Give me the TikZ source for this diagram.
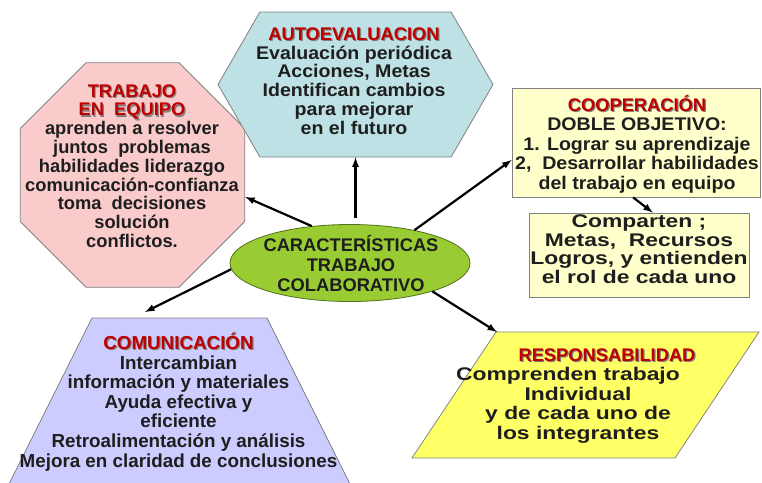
\documentclass[tikz,border=0pt]{standalone}
\usepackage{fontspec}
\setmainfont{Liberation Sans}
\newfontfamily\fuentemedia[FakeStretch=1.07]{Liberation Sans}
\newfontfamily\fuenteancha[FakeStretch=1.25]{Liberation Sans}
\usetikzlibrary{shapes.geometric,shapes.symbols}
\definecolor{rosa}{RGB}{249,203,203}
\definecolor{celeste}{RGB}{190,225,229}
\definecolor{crema}{RGB}{255,255,204}
\definecolor{verde}{RGB}{153,204,51}
\definecolor{lila}{RGB}{204,204,255}
\definecolor{amarillo}{RGB}{255,255,102}
\definecolor{rojo}{RGB}{192,0,0}
\definecolor{tinta}{RGB}{30,30,30}
\newcommand{\tit}[1]{{\rmfamily\leavevmode\rlap{\kern1.2pt\raisebox{-1.2pt}{\color{black!50}#1}}\color{rojo}#1}}
\begin{document}
\begin{tikzpicture}[x=1pt,y=-1pt,
  texto/.style={align=center,inner sep=0pt,text=tinta,font=\fontsize{18.3}{18.8}\selectfont\bfseries},
  forma/.style={draw=gray,line width=0.8pt,inner sep=2pt},
  flecha/.style={-latex,line width=2.2pt}]
\clip (0,0) rectangle (762,482);
% formas
\node[forma,fill=rosa,regular polygon,regular polygon sides=8,minimum size=243](equipo) at (132.5,175){};
\node[forma,fill=celeste,signal,signal from=nowhere,signal to=west and east,signal pointer angle=120,minimum width=275,minimum height=145](autoeval) at (355.5,84.5){};
\node[forma,fill=crema,minimum width=248,minimum height=109](coop) at (636,142.5){};
\node[forma,fill=crema,minimum width=220,minimum height=84](comparten) at (639,255){};
\node[forma,fill=verde,draw=verde!55!black,ellipse,minimum width=240,minimum height=77](centro) at (350,263){};
\draw[forma,fill=lila](92,318)--(267,318)--(353,490)--(6,490)--cycle;
\draw[forma,fill=amarillo](496,332)--(759,332)--(675,458)--(412,458)--cycle;
\coordinate(comunica) at (145,312);
\coordinate(respon) at (497,332);
% textos
\node[texto](equipoT) at (132,166){\tit{TRABAJO}\\\tit{EN\ \ EQUIPO}\\aprenden a resolver\\juntos\ \ problemas\\habilidades liderazgo\\comunicación-confianza\\toma\ \ decisiones\\solución\\conflictos.};
\node[texto,font=\fontsize{18.3}{18.8}\selectfont\bfseries\fuentemedia](autoevalT) at (354,81){\tit{AUTOEVALUACION}\\Evaluación periódica\\Acciones, Metas\\Identifican cambios\\para mejorar\\en el futuro};
\node[texto,font=\fontsize{18.3}{19.4}\selectfont\bfseries\fuentemedia](coopT) at (637,144){\tit{COOPERACIÓN}\\DOBLE OBJETIVO:\\1. Lograr su aprendizaje\\2,\ \ Desarrollar habilidades\\del trabajo en equipo};
\node[texto,font=\fontsize{18.3}{18.5}\selectfont\bfseries\fuenteancha](compartenT) at (639,249){Comparten ;\\Metas,\ \ Recursos\\Logros,\ y entienden\\el rol de cada uno};
\node[texto,font=\fontsize{18.3}{20}\selectfont\bfseries](centroT) at (351,263){CARACTERÍSTICAS\\TRABAJO\\COLABORATIVO};
\node[texto,font=\fontsize{18.8}{19.6}\selectfont\bfseries](comunicaT) at (178.5,402){\tit{COMUNICACIÓN}\\Intercambian\\información y materiales\\Ayuda efectiva y\\eficiente\\Retroalimentación y análisis\\Mejora en claridad de conclusiones};
\node[texto,font=\fontsize{18.3}{19.5}\selectfont\bfseries\fuenteancha](responT) at (578,396){\hspace*{58pt}\tit{RESPONSABILIDAD}\\\hspace*{-20pt}Comprenden trabajo\\Individual\\y de cada uno de\\los integrantes};
% flechas
\draw[flecha](centro.136)--(equipo.-11);
\draw[flecha,shorten <=6pt](autoeval.south |- centro.north)--(autoeval.south);
\draw[flecha](centro.27)--(coop.188);
\draw[flecha](centro.183)--(comunica);
\draw[flecha](centro.-19)--(respon);
\draw[flecha](coop.-93)--(comparten.72);
\end{tikzpicture}
\end{document}
